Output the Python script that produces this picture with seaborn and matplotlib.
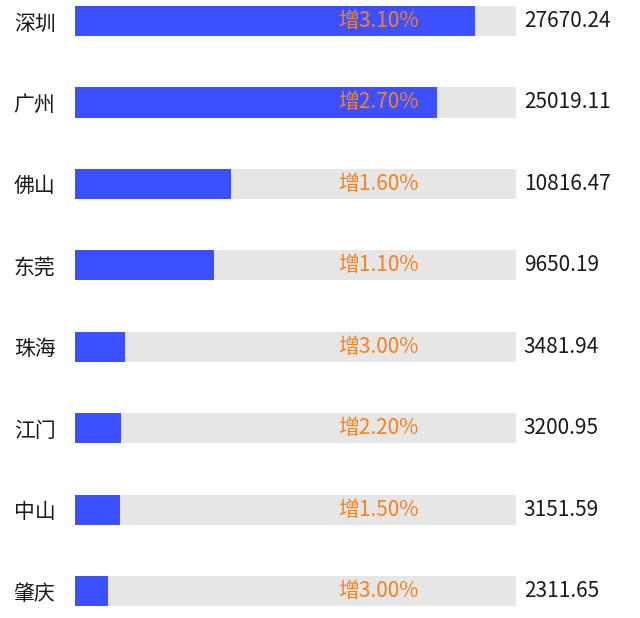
import pandas as pd
import matplotlib.pyplot as plt
import seaborn as sns

# data
cities = ['深圳', '广州', '佛山', '东莞', '珠海', '江门', '中山', '肇庆']
gdp = [27670.24, 25019.11, 10816.47, 9650.19, 3481.94, 3200.95, 3151.59, 2311.65]
growth = ['增3.10%', '增2.70%', '增1.60%', '增1.10%', '增3.00%', '增2.20%', '增1.50%', '增3.00%']
track_max = 30500

df = pd.DataFrame({'city': cities, 'gdp': gdp, 'track': [track_max] * len(cities)})

sns.set_theme(style='white')
plt.rcParams['font.family'] = ['Noto Sans CJK SC', 'DejaVu Sans']

fig = plt.figure(figsize=(6.4, 6.18), dpi=100)
ax = fig.add_axes([0.117, 0.0, 0.689, 1.0])

# grey track behind, blue value bar on top
sns.barplot(data=df, x='track', y='city', color='#e6e6e6', saturation=1,
            width=0.37, linewidth=0, ax=ax)
sns.barplot(data=df, x='gdp', y='city', color='#3d50ff', saturation=1,
            width=0.37, linewidth=0, ax=ax)

for i, (v, g) in enumerate(zip(gdp, growth)):
    ax.text(track_max + 550, i, f'{v:.2f}', ha='left', va='center',
            fontsize=15, color='#1a1a1a', fontweight='medium', clip_on=False)
    ax.text(21000, i, g, ha='center', va='center', fontsize=15,
            color='#f5821f', fontweight='medium')

ax.set_xlim(0, track_max)
ax.set_ylim(7.33, -0.258)
ax.set_xlabel('')
ax.set_ylabel('')
ax.set_xticks([])
ax.tick_params(axis='y', length=0, pad=14, labelsize=15, labelcolor='#1a1a1a')
for lab in ax.get_yticklabels():
    lab.set_fontweight('medium')
sns.despine(ax=ax, left=True, bottom=True)

fig.savefig('out.png', dpi=100)
